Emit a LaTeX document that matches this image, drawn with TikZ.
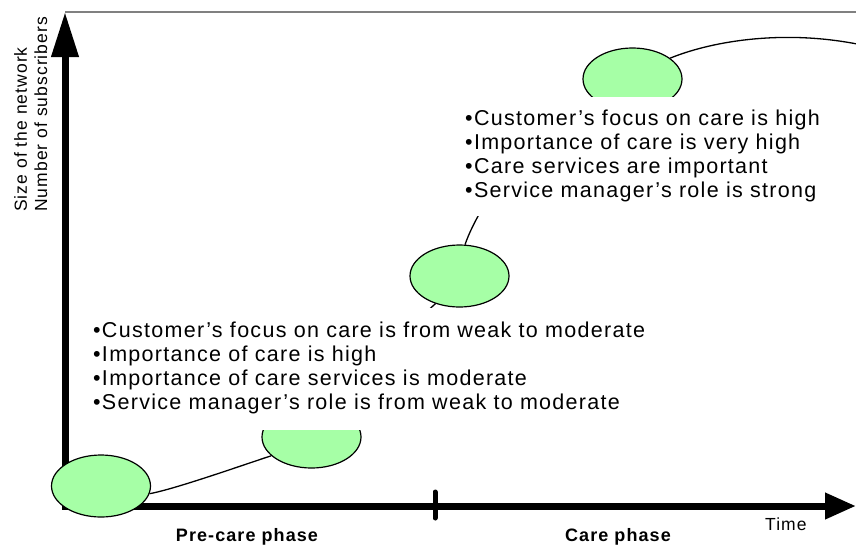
\documentclass[tikz,border=0pt]{standalone}
\usepackage{fontspec}
\setmainfont{Liberation Sans}[LetterSpace=6]
\usetikzlibrary{shapes.geometric,arrows.meta}
\definecolor{bubblegreen}{RGB}{166,255,166}
\definecolor{framegray}{RGB}{128,128,128}
\tikzset{
  bubble/.style={ellipse, draw=black, line width=1.2pt, fill=bubblegreen,
    minimum width=99pt, minimum height=62pt, inner sep=0pt},
  axisline/.style={line width=7pt},
  curveline/.style={line width=1.3pt},
  whitebox/.style={fill=white, draw=none, inner sep=0pt, anchor=north west},
  bodytext/.style={anchor=base west, inner sep=0pt, font=\fontsize{21.5}{24}\selectfont},
  axislabel/.style={anchor=base west, inner sep=0pt, rotate=90, font=\fontsize{17.5}{20}\selectfont},
  phaselabel/.style={anchor=base, inner sep=0pt, font=\fontsize{18}{20}\selectfont\bfseries},
  timelabel/.style={anchor=base west, inner sep=0pt, font=\fontsize{17.5}{20}\selectfont},
}
\begin{document}
\begin{tikzpicture}[x=1pt,y=-1pt]
\useasboundingbox (0,0) rectangle (856,544);
% frame and axes
\coordinate (yb) at (65,509.5);
\coordinate (yt) at (65,12);
\coordinate (gr) at (856,12);
\coordinate (xl) at (61.5,506);
\coordinate (xr) at (856,506);
\coordinate (tka) at (435,492);
\coordinate (tkb) at (435,518);
\draw[framegray, line width=1.5pt] (yt) -- (gr);
\draw[axisline, -{Triangle[length=45pt,width=26pt]}] (yb) -- (yt);
\draw[axisline, -{Triangle[length=31pt,width=25pt]}] (xl) -- (xr);
\draw[line width=5pt, line cap=round] (tka) -- (tkb);
% bubbles
\node[bubble] (e1) at (101,486) {};
\node[bubble] (e2) at (311.5,437) {};
\node[bubble] (e3) at (459.5,276) {};
\node[bubble] (e4) at (632.5,79) {};
\coordinate (c4end) at (857,44);
% connectors
\draw[curveline] (e1.-9) .. controls (175,489) and (240,466) .. (e2.205);
\draw[curveline] (e3.229) -- (e2.70);
\draw[curveline] (e3.80) .. controls (478.5,204.5) and (540,110) .. (e4.235);
\draw[curveline] (e4.29) .. controls (715,40) and (785,30) .. (c4end);
% white text panels
\node[whitebox, minimum width=610pt, minimum height=122pt] (box1) at (75,308) {};
\node[whitebox, minimum width=385pt, minimum height=119pt] (box2) at (455,97) {};
% texts
\node[bodytext] (t11) at (93,337) {•Customer’s focus on care is from weak to moderate};
\node[bodytext] (t12) at (93,361) {•Importance of care is high};
\node[bodytext] (t13) at (93,385) {•Importance of care services is moderate};
\node[bodytext] (t14) at (93,409) {•Service manager’s role is from weak to moderate};
\node[bodytext] (t21) at (465,125) {•Customer’s focus on care is high};
\node[bodytext] (t22) at (465,149) {•Importance of care is very high};
\node[bodytext] (t23) at (465,173) {•Care services are important};
\node[bodytext] (t24) at (465,197) {•Service manager’s role is strong};
\node[axislabel] (ly1) at (27,212) {Size of the network};
\node[axislabel] (ly2) at (47,212) {Number of subscribers};
\node[phaselabel] (pre) at (247,541) {Pre-care phase};
\node[phaselabel] (care) at (618,541) {Care phase};
\node[timelabel] (time) at (765,530) {Time};
\end{tikzpicture}
\end{document}
